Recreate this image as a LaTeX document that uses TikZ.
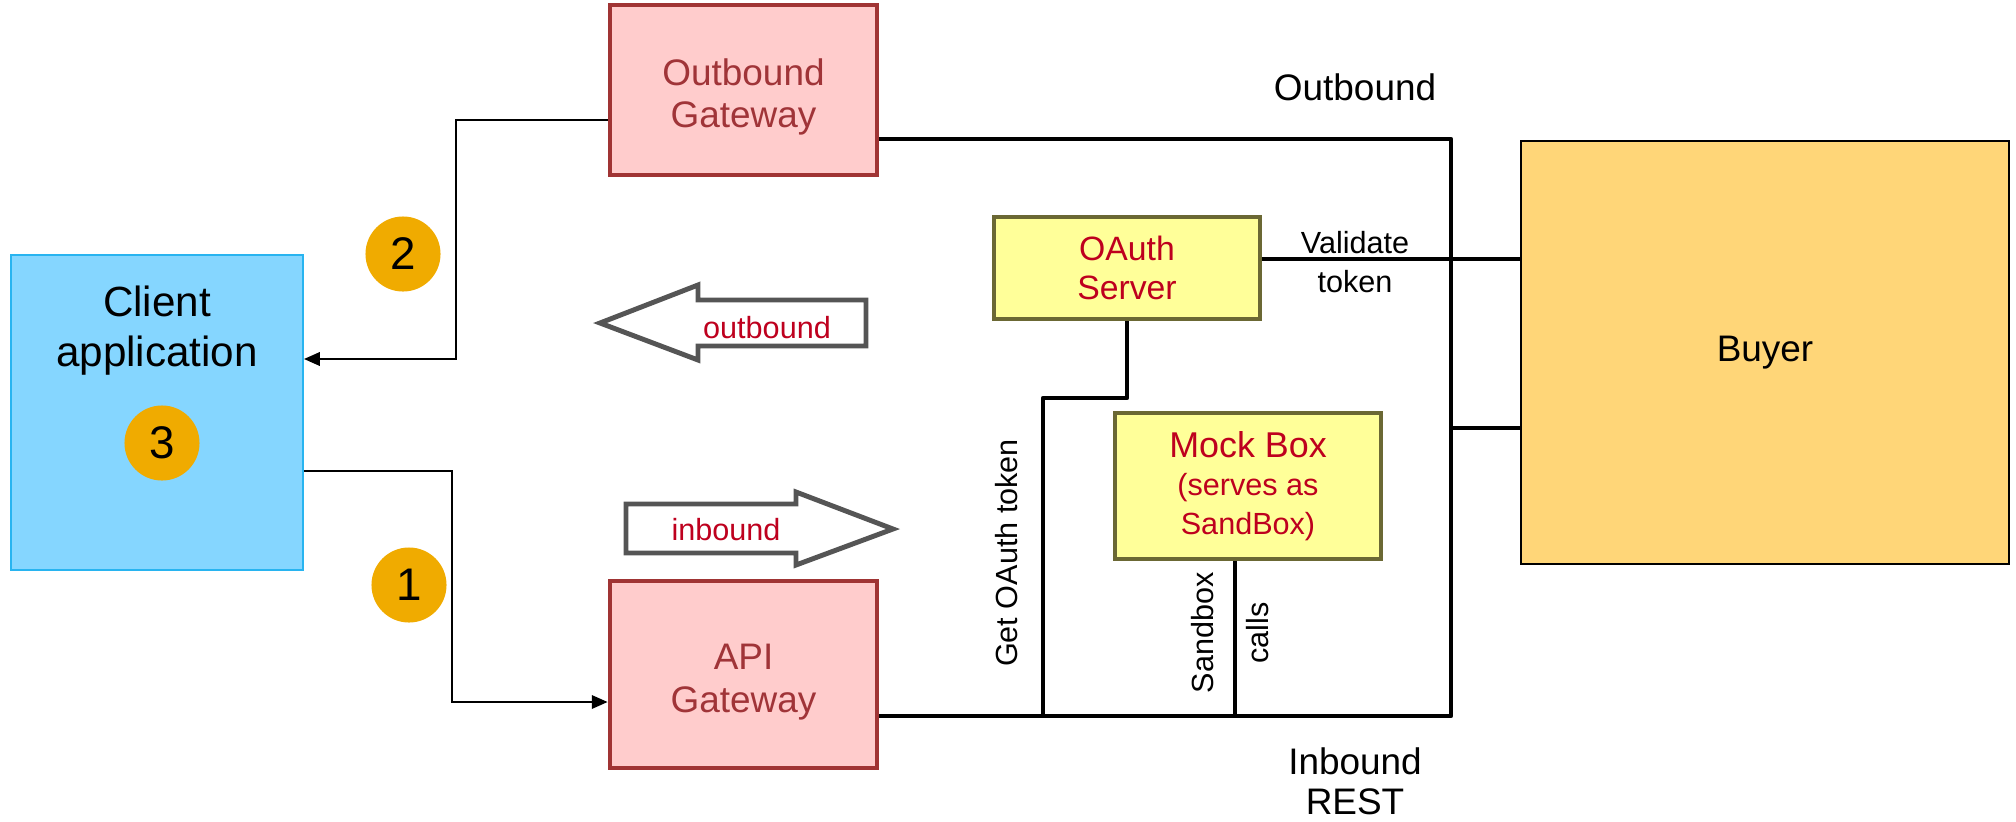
\documentclass[tikz,border=0pt]{standalone}
\usepackage{fontspec}
\setmainfont{Liberation Sans}
\usetikzlibrary{arrows.meta}
\definecolor{gwfill}{RGB}{255,204,204}
\definecolor{gwdraw}{RGB}{160,52,52}
\definecolor{gwtext}{RGB}{160,52,56}
\definecolor{clientfill}{RGB}{133,214,255}
\definecolor{clientdraw}{RGB}{40,180,240}
\definecolor{numfill}{RGB}{240,171,0}
\definecolor{boxfill}{RGB}{255,255,153}
\definecolor{boxdraw}{RGB}{107,104,52}
\definecolor{boxtext}{RGB}{190,0,30}
\definecolor{buyerfill}{RGB}{255,214,120}
\definecolor{arrowgray}{RGB}{85,85,85}
\tikzset{
  mid/.style={font=\fontsize{10.5}{12}\selectfont},
  small/.style={font=\fontsize{8.7}{11}\selectfont},
  gw/.style={mid, draw=gwdraw, line width=1.3pt, fill=gwfill, text=gwtext, align=center, minimum width=2.67cm},
  sbox/.style={small, draw=boxdraw, line width=1.3pt, fill=boxfill, text=boxtext, align=center, minimum width=2.66cm},
  num/.style={circle, fill=numfill, minimum size=0.75cm, inner sep=0pt, font=\fontsize{13}{14}\selectfont},
  bus/.style={line width=1.3pt, line join=round},
  link/.style={line width=0.65pt, -{Triangle[length=4.5pt,width=3.8pt]}},
  blockarrow/.style={draw=arrowgray, line width=1.4pt, fill=white}
}
\begin{document}
\begin{tikzpicture}[x=0.01cm, y=-0.01cm]
\useasboundingbox (0,0) rectangle (2016,821);
\node[gw, minimum height=1.7cm] (outgw) at (743.5,90) {\rule{0pt}{11.5pt}Outbound\\Gateway};
\node[gw, minimum height=1.87cm] (apigw) at (743.5,674.5) {\rule{0pt}{11.5pt}API\\Gateway};
\node[draw=clientdraw, line width=0.5pt, fill=clientfill, minimum width=2.92cm, minimum height=3.15cm] (client) at (157,412.5) {};
\node[font=\fontsize{12}{14.2}\selectfont, align=center] (clientlbl) at (157,331) {Client\\application};
\node[num] (num3) at (162,443) {3};
\node[num] (num2) at (403,254) {2};
\node[num] (num1) at (409,585) {1};
\node[sbox, minimum height=1.02cm] (oauth) at (1127,268) {\fontsize{9.6}{11}\selectfont OAuth\\\fontsize{9.6}{11}\selectfont Server};
\node[sbox, minimum height=1.46cm] (mock) at (1248,486) {\fontsize{10.2}{11}\selectfont Mock Box\\(serves as\\SandBox)};
\node[mid, draw=black, line width=0.4pt, fill=buyerfill, minimum width=4.88cm, minimum height=4.23cm] (buyer) at (1765,352.5) {Buyer};
\coordinate (bustop) at (1451,139);
\coordinate (busbot) at (1451,716);
\coordinate (tap) at (1451,428);
\coordinate (val) at (1300,259);
\coordinate (oabend) at (1043,398);
\coordinate (sbx) at (1235,600);
\coordinate (o1) at (456,120);
\coordinate (o2) at (456,359);
\coordinate (i1) at (452,471);
\coordinate (i2) at (452,702);
\draw[bus] (outgw.east |- bustop) -- (bustop) -- (busbot) -- (apigw.east |- busbot);
\draw[bus] (oauth.east |- val) -- (buyer.west |- val);
\draw[bus] (tap) -- (buyer.west |- tap);
\draw[bus] (oauth.south) |- (oabend) -- (oabend |- busbot);
\draw[bus] (mock.south -| sbx) -- (sbx |- busbot);
\draw[link] (outgw.west |- o1) -- (o1) -- (o2) -- (client.east |- o2);
\draw[link] (client.east |- i1) -- (i1) -- (i2) -- (apigw.west |- i2);
\draw[blockarrow] (600,323) -- (698,285) -- (698,300) -- (866,300) -- (866,346) -- (698,346) -- (698,360) -- cycle;
\node[small, text=boxtext] (outarrowlbl) at (767,328) {outbound};
\draw[blockarrow] (893,529) -- (796,492) -- (796,504) -- (626,504) -- (626,553) -- (796,553) -- (796,565) -- cycle;
\node[small, text=boxtext] (inarrowlbl) at (726,530) {inbound};
\node[mid] (outlbl) at (1355,87) {Outbound};
\node[font=\fontsize{10.5}{11.4}\selectfont, align=center] (inlbl) at (1355,781) {Inbound\\REST};
\node[small, align=center] (vallbl) at (1355,262) {Validate\\token};
\node[small, rotate=90] (getlbl) at (1007,553) {Get OAuth token};
\node[small, rotate=90] (sblbl) at (1203,633) {Sandbox};
\node[small, rotate=90] (callslbl) at (1258,633) {calls};
\end{tikzpicture}
\end{document}
